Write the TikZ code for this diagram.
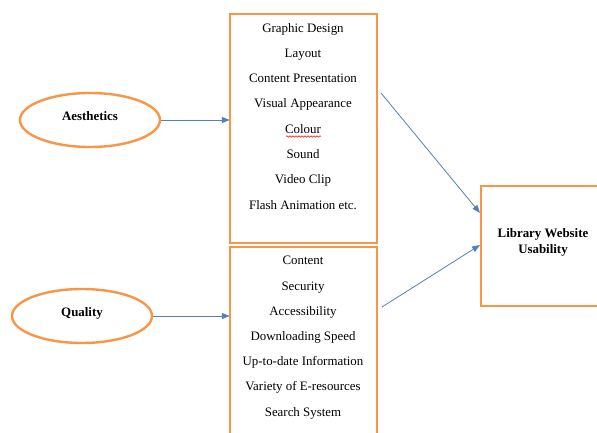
\documentclass[tikz,border=0pt]{standalone}
\usepackage{fontspec}
\setmainfont{Liberation Serif}
\usetikzlibrary{arrows.meta,shapes.geometric,decorations.pathmorphing}
\definecolor{borange}{HTML}{F79646}
\definecolor{ablue}{HTML}{4F81BD}
\begin{document}
\begin{tikzpicture}[x=1pt,y=-1pt,
  every node/.style={font=\fontsize{12.9}{15}\selectfont, inner sep=0pt},
  oval/.style={ellipse, draw=borange, line width=2.4pt, minimum width=140pt, minimum height=54pt},
  obox/.style={draw=borange, line width=2.4pt},
  item/.style={anchor=base},
  btext/.style={anchor=base, font=\fontsize{12.9}{15}\selectfont\bfseries},
  conn/.style={draw=ablue, line width=0.8pt, -{Triangle[length=8pt,width=6pt]}}]
\useasboundingbox (0,0) rectangle (597,433);
\fill[white] (0,0) rectangle (597,433);
% boxes
\draw[obox] (230,14) rectangle (377,243);
\node[minimum width=147pt, minimum height=229pt] (topbox) at (303.5,128.5) {};
\draw[obox] (230,247) rectangle (377,445);
\node[minimum width=147pt, minimum height=198pt] (botbox) at (303.5,346) {};
\draw[obox] (481,186) rectangle (605,306);
\node[minimum width=124pt, minimum height=120pt] (lib) at (543,246) {};
% ellipses
\node[oval] (aes) at (90,120) {};
\node[btext] (aest) at (90,120.5) {Aesthetics};
\node[oval] (qual) at (82,316) {};
\node[btext] (qualt) at (82,316.5) {Quality};
% library text
\node[btext] (libt1) at (543,237.5) {Library Website};
\node[btext] (libt2) at (543,253.5) {Usability};
% top items
\node[item] (t1) at (303,32.5) {Graphic Design};
\node[item] (t2) at (303,57.5) {Layout};
\node[item] (t3) at (303,82.5) {Content Presentation};
\node[item] (t4) at (303,107.5) {Visual Appearance};
\node[item] (t5) at (303,133.5) {Colour};
\node[item] (t6) at (303,158.5) {Sound};
\node[item] (t7) at (303,183.5) {Video Clip};
\node[item] (t8) at (303,209.5) {Flash Animation etc.};
\draw[red, line width=0.5pt, decorate, decoration={snake, amplitude=0.8pt, segment length=3pt}] (286,136.5) -- (321,136.5);
% bottom items
\node[item] (b1) at (303,264.5) {Content};
\node[item] (b2) at (303,290.5) {Security};
\node[item] (b3) at (303,315.5) {Accessibility};
\node[item] (b4) at (303,340.5) {Downloading Speed};
\node[item] (b5) at (303,365.5) {Up-to-date Information};
\node[item] (b6) at (303,390.5) {Variety of E-resources};
\node[item] (b7) at (303,416.5) {Search System};
% connectors
\draw[conn] (aes.east) -- (aes -| topbox.west);
\draw[conn] (qual.east) -- (qual -| botbox.west);
\coordinate (s1) at (381,93);
\coordinate (s2) at (382,307);
\coordinate (e1) at (480,213);
\coordinate (e2) at (480,245);
\draw[conn] (s1) -- (e1);
\draw[conn] (s2) -- (e2);
\end{tikzpicture}
\end{document}
